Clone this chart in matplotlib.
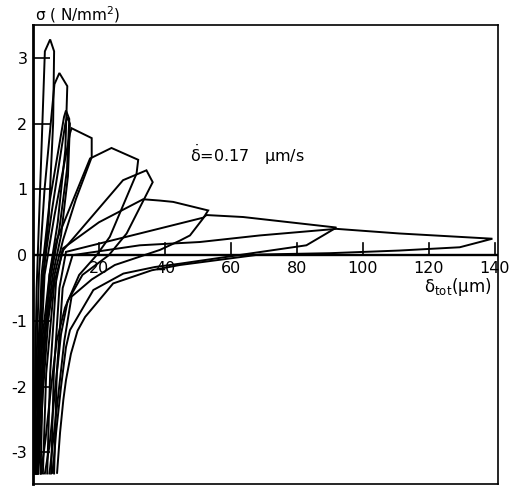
import matplotlib
matplotlib.use("Agg")
import matplotlib.pyplot as plt

plt.rcParams["mathtext.default"] = "regular"
plt.rcParams["axes.unicode_minus"] = False

# hysteresis loops, delta_tot (um) vs sigma (N/mm^2)
l1_x = [0.3, 0.6, 1.1, 2.5, 3.6, 5.2, 6.4, 6.1, 4.8, 3.2, 1.8, 0.9, 0.2]
l1_y = [-3.32, -2.0, -0.5, 1.5, 3.1, 3.28, 3.1, 2.0, 0.6, -0.3, -1.2, -2.3, -3.32]

l2_x = [0.6, 1.0, 1.8, 3.5, 6.5, 8.0, 10.4, 9.8, 7.5, 5.0, 3.0, 1.6, 0.6]
l2_y = [-3.32, -1.8, -0.3, 1.0, 2.6, 2.77, 2.57, 1.6, 0.5, -0.3, -1.2, -2.3, -3.32]

l3_x = [1.0, 1.5, 2.6, 5.0, 9.4, 10.0, 11.0, 10.3, 8.0, 5.5, 3.4, 2.0, 1.0]
l3_y = [-3.32, -1.8, -0.3, 0.8, 2.1, 2.2, 2.07, 1.3, 0.4, -0.3, -1.2, -2.3, -3.32]

l3b_x = [1.2, 1.8, 3.0, 5.8, 9.8, 10.4, 11.2, 10.6, 8.5, 6.0, 3.8, 2.3, 1.3]
l3b_y = [-3.32, -1.8, -0.3, 0.7, 2.0, 2.1, 2.0, 1.2, 0.3, -0.3, -1.2, -2.3, -3.32]

l4_x = [1.5, 2.1, 3.5, 6.5, 11.2, 11.7, 17.8, 17.8, 13.0, 9.1, 6.5, 4.6, 3.0, 1.6]
l4_y = [-3.32, -1.8, -0.3, 0.6, 1.85, 1.93, 1.78, 1.49, 0.85, 0.23, -0.3, -1.0, -2.1, -3.32]

l5_x = [2.3, 3.0, 5.0, 7.2, 17.3, 23.8, 31.9, 31.4, 23.3, 19.3, 14.0, 9.7, 7.2, 5.5, 3.8, 2.4]
l5_y = [-3.32, -1.8, -0.3, 0.23, 1.47, 1.63, 1.45, 1.24, 0.28, 0.0, -0.3, -0.8, -1.3, -2.0, -2.8, -3.32]

l6_x = [3.0, 4.0, 6.5, 9.2, 27.3, 34.4, 36.3, 28.4, 23.0, 15.0, 10.5, 8.5, 6.8, 5.0, 3.6]
l6_y = [-3.32, -1.8, -0.4, 0.08, 1.14, 1.29, 1.11, 0.33, 0.0, -0.3, -0.7, -1.2, -2.0, -2.9, -3.32]

l7_x = [4.3, 5.2, 7.0, 9.0, 20.0, 33.4, 38.5, 42.5, 53.1, 51.6, 47.6, 44.5, 38.5, 24.8, 17.8, 11.7, 9.5, 7.5, 5.0]
l7_y = [-3.32, -1.8, -0.4, 0.1, 0.5, 0.85, 0.83, 0.81, 0.68, 0.56, 0.3, 0.22, 0.08, -0.15, -0.37, -0.63, -1.3, -2.2, -3.32]

l8_x = [5.5, 6.3, 8.0, 10.0, 32.4, 51.6, 52.6, 63.7, 92.0, 89.0, 82.9, 67.8, 44.5, 37.0, 27.4, 18.3, 11.2, 10.0, 8.5, 7.0, 6.0]
l8_y = [-3.32, -1.8, -0.5, 0.05, 0.33, 0.57, 0.61, 0.58, 0.42, 0.33, 0.15, 0.04, -0.13, -0.18, -0.28, -0.53, -1.14, -1.4, -2.0, -2.7, -3.31]

l9_x = [6.4, 7.2, 9.0, 12.0, 32.4, 50.6, 68.8, 92.0, 111.0, 139.3, 129.4, 111.0, 90.0, 68.8, 44.5, 36.0, 24.3, 15.8, 13.5, 11.5, 10.0, 9.2, 8.2, 7.3]
l9_y = [-3.32, -1.8, -0.5, 0.0, 0.15, 0.2, 0.3, 0.40, 0.33, 0.25, 0.12, 0.07, 0.03, 0.01, -0.15, -0.23, -0.43, -0.94, -1.15, -1.5, -1.9, -2.2, -2.7, -3.31]

loops = [(l1_x, l1_y), (l2_x, l2_y), (l3_x, l3_y), (l3b_x, l3b_y), (l4_x, l4_y),
         (l5_x, l5_y), (l6_x, l6_y), (l7_x, l7_y), (l8_x, l8_y), (l9_x, l9_y)]

x_ticks = [20, 40, 60, 80, 100, 120, 140]
y_ticks = [-3, -2, -1, 0, 1, 2, 3]

fig = plt.figure(figsize=(5.11, 4.86), dpi=100)
ax = fig.add_axes([33 / 511, 2 / 486, 465 / 511, 459 / 486])

for lx, ly in loops:
    ax.plot(lx, ly, color="black", lw=1.4, solid_joinstyle="miter")

# zero line with upward ticks, labels underneath
ax.axhline(0, color="black", lw=1.7)
for t in x_ticks:
    ax.plot([t, t], [0, 0.18], color="black", lw=1.2)
    ax.text(t, -0.2, str(t), ha="center", va="center", fontsize=11.5)

ax.set_xlim(0, 141)
ax.set_ylim(-3.48, 3.5)
ax.set_xticks([])
ax.set_yticks(y_ticks)
ax.tick_params(axis="y", direction="in", length=12, width=1.2, labelsize=11.5, pad=4)
for s in ax.spines.values():
    s.set_linewidth(1.2)
ax.spines["left"].set_linewidth(2.0)

ax.text(47.6, 1.52, r"$\dot{\delta}$=0.17   μm/s", ha="left", va="center", fontsize=11.5)
ax.text(139, -0.49, r"$\delta_{tot}$(μm)", ha="right", va="center", fontsize=12)
fig.text(35 / 511, 1 - 15 / 486, "σ ( N/mm$^2$)", ha="left", va="center", fontsize=11)

fig.savefig("out.png", dpi=100)
